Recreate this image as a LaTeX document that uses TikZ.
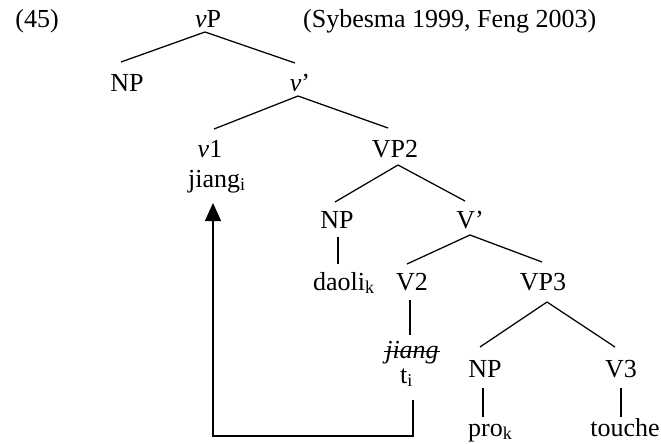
\documentclass[tikz,border=0pt]{standalone}
\usepackage{fontspec}
\setmainfont{Liberation Serif}
\usetikzlibrary{calc,arrows.meta}
\newcommand\sbs[1]{{\fontsize{18}{18}\selectfont\raisebox{-3.5pt}{#1}}}
\begin{document}
\begin{tikzpicture}[x=1pt,y=-1pt,
  lab/.style={inner sep=0pt,anchor=base,font=\fontsize{26}{30}\selectfont},
  labw/.style={lab,anchor=base west},
  edge/.style={line width=1.25pt},
  mv/.style={line width=1.25pt,-{Triangle[length=18pt,width=16pt]}}]
\useasboundingbox (0,0) rectangle (661,444);
% labels
\node[lab] (ex) at (37,28) {(45)};
\node[lab] (vP) at (208,28) {\textit{v}P};
\node[labw] (src) at (303,28) {(Sybesma 1999, Feng 2003)};
\node[lab] (NPa) at (127,92) {NP};
\node[lab] (vbar) at (300,92) {\textit{v}’};
\node[lab] (v1) at (210,157) {\textit{v}1};
\node[labw] (jiangi) at (188,187) {jiang\sbs{i}};
\node[lab] (VP2) at (395,157) {VP2};
\node[lab] (NPb) at (337,228) {NP};
\node[lab] (Vbar) at (470,228) {V’};
\node[labw] (daoli) at (313,290) {daoli\sbs{k}};
\node[lab] (V2) at (412,290) {V2};
\node[lab] (VP3) at (543,290) {VP3};
\node[lab] (js) at (412,358) {\textit{jiang}};
\node[labw] (ti) at (400,383) {t\sbs{i}};
\node[lab] (NPc) at (485,377) {NP};
\node[lab] (V3) at (621,377) {V3};
\node[labw] (pro) at (468,436) {pro\sbs{k}};
\node[lab] (touche) at (625,436) {touche};
% strike-through
\draw[line width=1pt] ($(js.base west)+(-1,-7)$) -- ($(js.base east)+(1,-7)$);
% branches
\draw[edge] ($(vP.base)+(-3,4)$) -- ($(NPa.base)+(-6,-30)$);
\draw[edge] ($(vP.base)+(-3,4)$) -- ($(vbar.base)+(-5,-29)$);
\draw[edge] ($(vbar.base)+(-2,4)$) -- ($(v1.base)+(4,-28)$);
\draw[edge] ($(vbar.base)+(-2,4)$) -- ($(VP2.base)+(-7,-29)$);
\draw[edge] ($(VP2.base)+(3,8)$) -- ($(NPb.base)+(-2,-26)$);
\draw[edge] ($(VP2.base)+(3,8)$) -- ($(Vbar.base)+(-5,-27)$);
\draw[edge] ($(NPb.base)+(1,9)$) -- ($(daoli.base west)+(25,-26)$);
\draw[edge] ($(Vbar.base)+(0,7)$) -- ($(V2.base)+(-5,-26)$);
\draw[edge] ($(Vbar.base)+(0,7)$) -- ($(VP3.base)+(-1,-28)$);
\draw[edge] ($(V2.base)+(-2,10)$) -- ($(js.base)+(-2,-23)$);
\draw[edge] ($(VP3.base)+(4,12)$) -- ($(NPc.base)+(-5,-30)$);
\draw[edge] ($(VP3.base)+(4,12)$) -- ($(V3.base)+(-6,-30)$);
\draw[edge] ($(NPc.base)+(-2,11)$) -- ($(pro.base west)+(15,-19)$);
\draw[edge] ($(V3.base)+(0,11)$) -- ($(touche.base)+(-4,-19)$);
% movement arrow
\draw[mv] ($(ti.base west)+(13,17)$) -- ++(0,36) -| ($(jiangi.base west)+(25,16)$);
\end{tikzpicture}
\end{document}
